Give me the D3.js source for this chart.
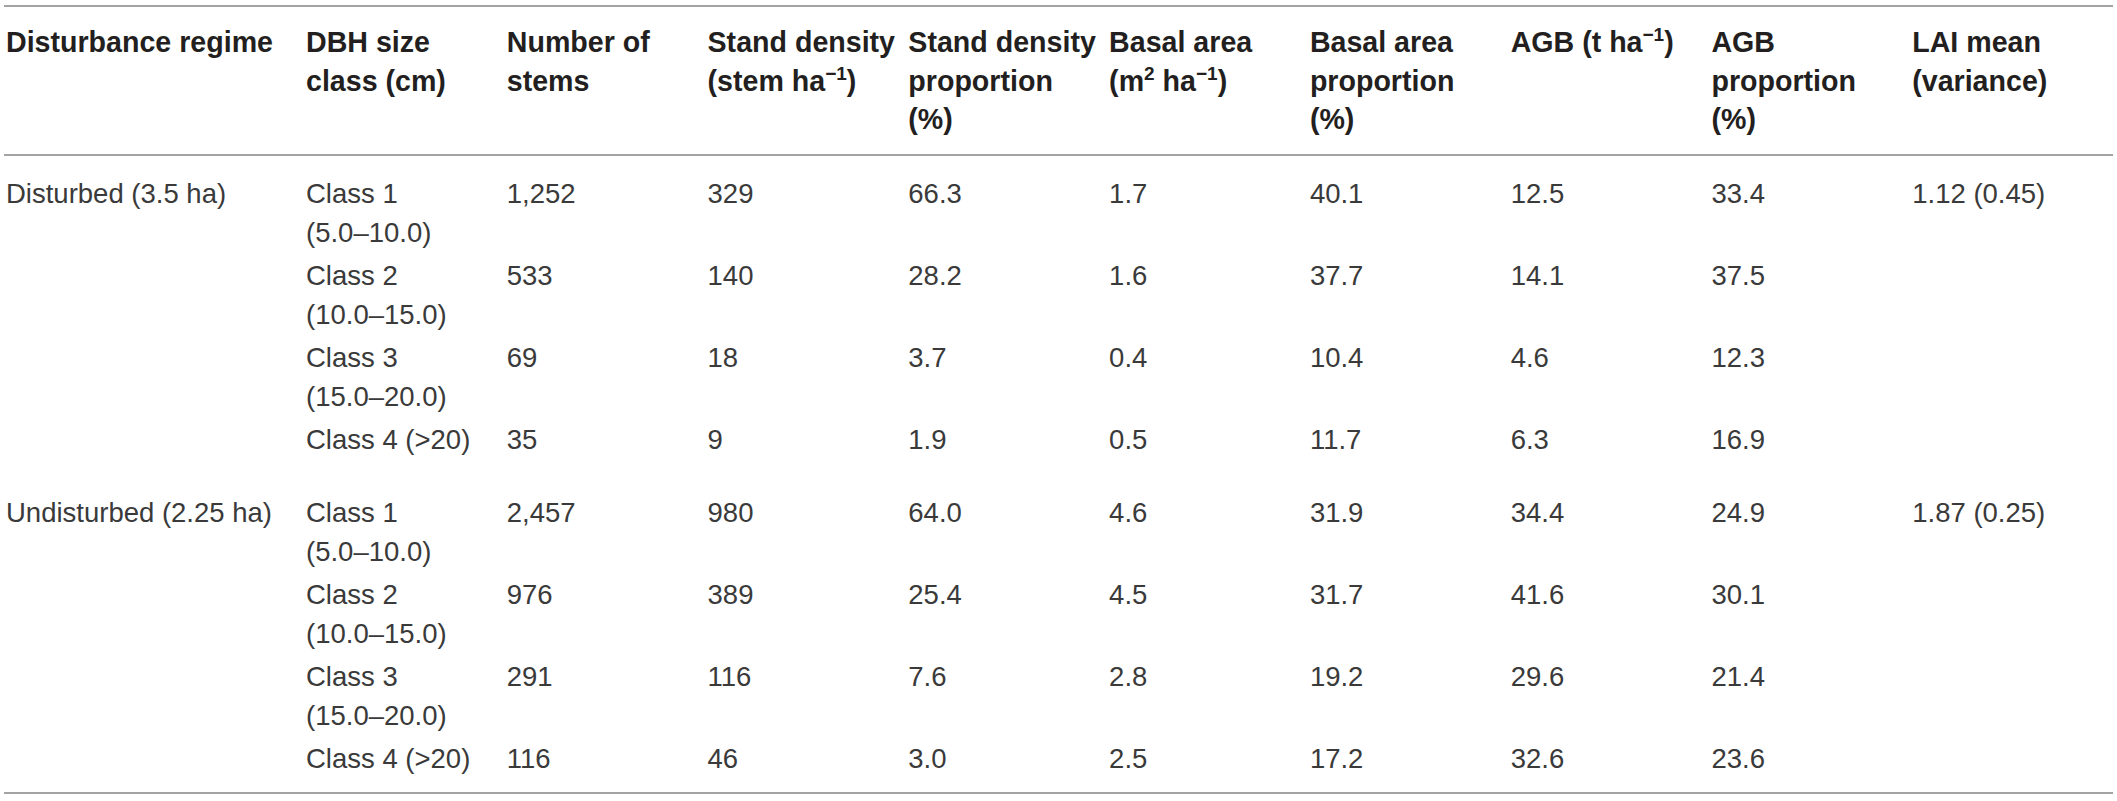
<!DOCTYPE html>
<html>
<head>
<meta charset="utf-8">
<script src="https://cdn.jsdelivr.net/npm/d3@7"></script>
<style>
  body { margin: 0; background: #fff; }
  svg { display: block; }
</style>
</head>
<body>
<svg id="table"></svg>
<script>
// header cells, one array of lines per column ("^{..}" marks a superscript)
const headers = [
  ["Disturbance regime"],
  ["DBH size", "class (cm)"],
  ["Number of", "stems"],
  ["Stand density", "(stem ha^{\u22121})"],
  ["Stand density", "proportion", "(%)"],
  ["Basal area", "(m^{2} ha^{\u22121})"],
  ["Basal area", "proportion", "(%)"],
  ["AGB (t ha^{\u22121})"],
  ["AGB", "proportion", "(%)"],
  ["LAI mean", "(variance)"]
];

const regimes = ["Disturbed (3.5 ha)", "", "", "", "Undisturbed (2.25 ha)", "", "", ""];
const sizeClasses = [
  ["Class 1", "(5.0\u201310.0)"], ["Class 2", "(10.0\u201315.0)"], ["Class 3", "(15.0\u201320.0)"], ["Class 4 (>20)"],
  ["Class 1", "(5.0\u201310.0)"], ["Class 2", "(10.0\u201315.0)"], ["Class 3", "(15.0\u201320.0)"], ["Class 4 (>20)"]
];
const stems        = [1252, 533, 69, 35, 2457, 976, 291, 116];
const standDensity = [329, 140, 18, 9, 980, 389, 116, 46];
const densityProp  = [66.3, 28.2, 3.7, 1.9, 64.0, 25.4, 7.6, 3.0];
const basalArea    = [1.7, 1.6, 0.4, 0.5, 4.6, 4.5, 2.8, 2.5];
const basalProp    = [40.1, 37.7, 10.4, 11.7, 31.9, 31.7, 19.2, 17.2];
const agb          = [12.5, 14.1, 4.6, 6.3, 34.4, 41.6, 29.6, 32.6];
const agbProp      = [33.4, 37.5, 12.3, 16.9, 24.9, 30.1, 21.4, 23.6];
const laiMean      = ["1.12 (0.45)", "", "", "", "1.87 (0.25)", "", "", ""];

const width = 2117, height = 801;
const fmtInt = d3.format(","), fmt1 = d3.format(".1f");

// build the cell table (rows x columns, each cell = array of lines)
const rows = regimes.map((r, i) => [
  [r],
  sizeClasses[i],
  [fmtInt(stems[i])],
  [String(standDensity[i])],
  [fmt1(densityProp[i])],
  [fmt1(basalArea[i])],
  [fmt1(basalProp[i])],
  [fmt1(agb[i])],
  [fmt1(agbProp[i])],
  [laiMean[i]]
]);

const svg = d3.select("#table")
  .attr("width", width)
  .attr("height", height)
  .style("font-family", "'Liberation Sans', Arial, Helvetica, sans-serif");

// column positions: first column wide, the rest evenly spaced
const x = d3.scaleLinear().domain([1, 10]).range([306, 2113]);
const colX = i => i === 0 ? 6 : x(i);

const headTop = 6, headBottom = 155;
const lineStep = 38.7;
const rowHeight = cell => cell.length > 1 ? 82 : 73;

// row tops from cumulative heights
const rowTops = [];
rows.reduce((top, r) => { rowTops.push(top); return top + rowHeight(r[1]); }, headBottom);
const tableBottom = rowTops[rowTops.length - 1] + rowHeight(rows[rows.length - 1][1]);

// rules
svg.selectAll("line.rule")
  .data([headTop, headBottom, tableBottom])
  .enter()
  .append("line")
  .attr("class", "rule")
  .attr("x1", 4).attr("x2", 2113)
  .attr("y1", d => d).attr("y2", d => d)
  .attr("stroke", "#a3a3a3")
  .attr("stroke-width", 2);

// write one line of text, handling ^{sup}
function writeLine(sel, str, supSize, rise) {
  const parts = str.split(/\^\{([^}]*)\}/);
  let raised = false;
  parts.forEach((p, k) => {
    if (k % 2 === 1) {
      sel.append("tspan").attr("dy", -rise).attr("font-size", supSize).text(p);
      raised = true;
    } else if (p !== "") {
      const t = sel.append("tspan").text(p);
      if (raised) { t.attr("dy", rise); raised = false; }
    }
  });
}

// header
const head = svg.append("g")
  .attr("font-weight", "bold")
  .attr("font-size", 28.6)
  .attr("fill", "#231f20");

headers.forEach((lines, c) => {
  lines.forEach((ln, k) => {
    const t = head.append("text")
      .attr("x", colX(c))
      .attr("y", 52 + k * lineStep);
    writeLine(t, ln, 19, 11);
  });
});

// body
const body = svg.append("g")
  .attr("font-size", 27.5)
  .attr("fill", "#3a3a3a");

rows.forEach((r, i) => {
  r.forEach((cell, c) => {
    cell.forEach((ln, k) => {
      if (!ln) return;
      body.append("text")
        .attr("x", colX(c))
        .attr("y", rowTops[i] + 48 + k * lineStep)
        .text(ln);
    });
  });
});
</script>
</body>
</html>
